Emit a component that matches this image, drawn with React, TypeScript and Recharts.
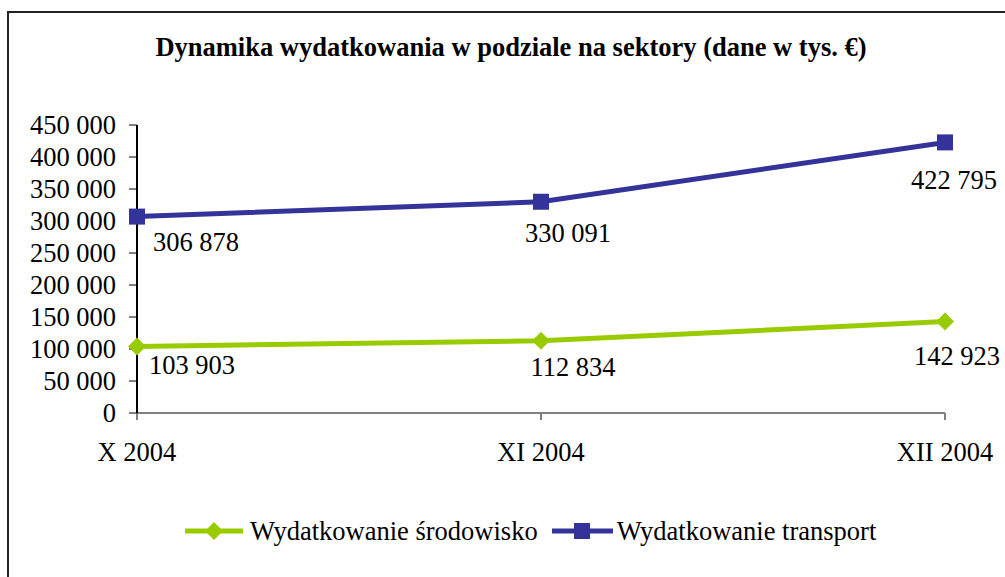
import { LineChart, Line, XAxis, YAxis, LabelList } from "recharts"

const months = ["X 2004", "XI 2004", "XII 2004"]
const srodowisko = [103903, 112834, 142923]
const transport = [306878, 330091, 422795]
const yTicks = [0, 50000, 100000, 150000, 200000, 250000, 300000, 350000, 400000, 450000]

const data = months.map((m, i) => ({
  month: m,
  srodowisko: srodowisko[i],
  transport: transport[i],
}))

const GREEN = "#99CC00"
const BLUE = "#333399"
const FONT = '"Liberation Serif", "Times New Roman", serif'

// where each value label sits relative to its point
const greenLabelOffsets = [
  [55, 18],
  [32, 26],
  [12, 34],
]
const blueLabelOffsets = [
  [59, 25],
  [27, 31],
  [9, 38],
]

const fmt = (n: number) => String(n).replace(/\B(?=(\d{3})+(?!\d))/g, " ")

const Diamond = (props: any) => {
  const { cx, cy } = props
  if (cx == null || cy == null) return null
  const r = 9
  return (
    <polygon
      points={`${cx},${cy - r} ${cx + r},${cy} ${cx},${cy + r} ${cx - r},${cy}`}
      fill={GREEN}
    />
  )
}

const Square = (props: any) => {
  const { cx, cy } = props
  if (cx == null || cy == null) return null
  const s = 16
  return <rect x={cx - s / 2} y={cy - s / 2} width={s} height={s} fill={BLUE} />
}

const makeLabel = (offsets: number[][]) => (props: any) => {
  const { x, y, value, index } = props
  const [dx, dy] = offsets[index] || [0, 20]
  return (
    <text
      x={x + dx}
      y={y + dy}
      textAnchor="middle"
      dominantBaseline="central"
      fontFamily={FONT}
      fontSize={26.5}
      fill="#000"
    >
      {fmt(value)}
    </text>
  )
}

export default function App() {
  return (
    <div
      style={{
        position: "absolute",
        left: 0,
        top: 0,
        width: 1005,
        height: 577,
        overflow: "hidden",
        background: "#fff",
        fontFamily: FONT,
      }}
    >
      <div
        style={{
          position: "absolute",
          left: 7,
          top: 11,
          width: 1100,
          height: 700,
          borderLeft: "2px solid #222",
          borderTop: "2px solid #222",
        }}
      />
      <div
        style={{
          position: "absolute",
          left: 0,
          width: 1022,
          top: 32,
          textAlign: "center",
          fontWeight: "bold",
          fontSize: 26.5,
          color: "#000",
        }}
      >
        Dynamika wydatkowania w podziale na sektory (dane w tys. €)
      </div>
      <div style={{ position: "absolute", left: 0, top: 0 }}>
        <LineChart
          width={1005}
          height={577}
          data={data}
          margin={{ top: 125, right: 60, bottom: 124, left: 0 }}
        >
          <XAxis
            dataKey="month"
            height={40}
            axisLine={{ stroke: "#808080", strokeWidth: 2 }}
            tickLine={{ stroke: "#808080", strokeWidth: 2 }}
            tickSize={7}
            tickMargin={22}
            tick={{ fill: "#000", fontSize: 26.5, fontFamily: FONT }}
            padding={{ left: 0, right: 0 }}
            interval={0}
          />
          <YAxis
            width={137}
            domain={[0, 450000]}
            ticks={yTicks}
            interval={0}
            tickFormatter={fmt}
            axisLine={{ stroke: "#000", strokeWidth: 2 }}
            tickLine={{ stroke: "#000" }}
            tickSize={8}
            tickMargin={13}
            tick={{ fill: "#000", fontSize: 26.5, fontFamily: FONT }}
          />
          <Line
            dataKey="srodowisko"
            stroke={GREEN}
            strokeWidth={5}
            dot={<Diamond />}
            isAnimationActive={false}
          >
            <LabelList dataKey="srodowisko" content={makeLabel(greenLabelOffsets)} />
          </Line>
          <Line
            dataKey="transport"
            stroke={BLUE}
            strokeWidth={5}
            dot={<Square />}
            isAnimationActive={false}
          >
            <LabelList dataKey="transport" content={makeLabel(blueLabelOffsets)} />
          </Line>
        </LineChart>
      </div>
      <div
        style={{
          position: "absolute",
          left: 185,
          top: 514,
          height: 34,
          display: "flex",
          alignItems: "center",
          fontSize: 26.5,
          color: "#000",
          whiteSpace: "nowrap",
        }}
      >
        <svg width={58} height={20} style={{ marginRight: 7 }}>
          <line x1={0} y1={10} x2={58} y2={10} stroke={GREEN} strokeWidth={5} />
          <polygon points="29,1 38,10 29,19 20,10" fill={GREEN} />
        </svg>
        <span>Wydatkowanie środowisko</span>
        <svg width={61} height={20} style={{ marginLeft: 14, marginRight: 4 }}>
          <line x1={0} y1={10} x2={61} y2={10} stroke={BLUE} strokeWidth={5} />
          <rect x={22} y={2} width={16} height={16} fill={BLUE} />
        </svg>
        <span>Wydatkowanie transport</span>
      </div>
    </div>
  )
}
